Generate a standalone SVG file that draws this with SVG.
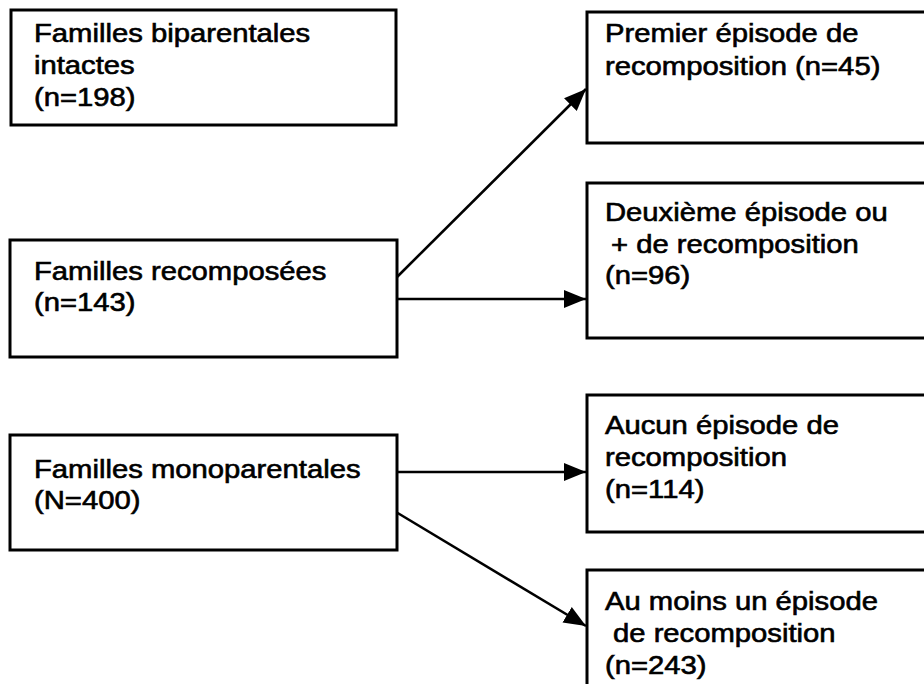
<svg xmlns="http://www.w3.org/2000/svg" width="924" height="684" viewBox="0 0 924 684">
<defs>
<style>
.box{fill:#fff;stroke:#000;stroke-width:3}
.t{font-family:"Liberation Sans",Arial,Helvetica,sans-serif;font-size:25px;fill:#000;stroke:#000;stroke-width:0.6}
.c{stroke:#000;stroke-width:2.6;fill:none}
</style>
<marker id="ah" markerUnits="userSpaceOnUse" markerWidth="24" markerHeight="20" refX="22" refY="10" orient="auto">
<path d="M0,1 L22,10 L0,19 Z" fill="#000"/>
</marker>
</defs>
<rect width="924" height="684" fill="#fff"/>
<g id="connectors">
<line class="c" x1="396" y1="278" x2="586" y2="89" marker-end="url(#ah)"/>
<line class="c" x1="396" y1="299" x2="586" y2="299" marker-end="url(#ah)"/>
<line class="c" x1="396" y1="472" x2="586" y2="472" marker-end="url(#ah)"/>
<line class="c" x1="396" y1="512" x2="586" y2="626" marker-end="url(#ah)"/>
</g>
<g id="n-biparentales">
<rect class="box" x="11" y="10" width="385" height="115"/>
<text class="t" transform="translate(34 42) scale(1.17 1)">Familles biparentales</text>
<text class="t" transform="translate(34 74) scale(1.17 1)">intactes</text>
<text class="t" transform="translate(34 106) scale(1.17 1)">(n=198)</text>
</g>
<g id="n-recomposees">
<rect class="box" x="10" y="240" width="387" height="117"/>
<text class="t" transform="translate(34 280) scale(1.17 1)">Familles recomposées</text>
<text class="t" transform="translate(34 311) scale(1.17 1)">(n=143)</text>
</g>
<g id="n-monoparentales">
<rect class="box" x="10" y="435" width="387" height="115"/>
<text class="t" transform="translate(34 478) scale(1.17 1)">Familles monoparentales</text>
<text class="t" transform="translate(34 509) scale(1.17 1)">(N=400)</text>
</g>
<g id="n-premier">
<rect class="box" x="587" y="12" width="345" height="131"/>
<text class="t" transform="translate(605 42) scale(1.17 1)">Premier épisode de</text>
<text class="t" transform="translate(605 75) scale(1.17 1)">recomposition (n=45)</text>
</g>
<g id="n-deuxieme">
<rect class="box" x="587" y="183" width="345" height="155"/>
<text class="t" transform="translate(605 221) scale(1.17 1)">Deuxième épisode ou</text>
<text class="t" transform="translate(611 253) scale(1.17 1)">+ de recomposition</text>
<text class="t" transform="translate(605 284) scale(1.17 1)">(n=96)</text>
</g>
<g id="n-aucun">
<rect class="box" x="587" y="395" width="345" height="137"/>
<text class="t" transform="translate(605 434) scale(1.17 1)">Aucun épisode de</text>
<text class="t" transform="translate(605 466) scale(1.17 1)">recomposition</text>
<text class="t" transform="translate(605 498) scale(1.17 1)">(n=114)</text>
</g>
<g id="n-aumoins">
<rect class="box" x="587" y="570" width="345" height="130"/>
<text class="t" transform="translate(605 610) scale(1.17 1)">Au moins un épisode</text>
<text class="t" transform="translate(613 642) scale(1.17 1)">de recomposition</text>
<text class="t" transform="translate(605 674) scale(1.17 1)">(n=243)</text>
</g>
</svg>
